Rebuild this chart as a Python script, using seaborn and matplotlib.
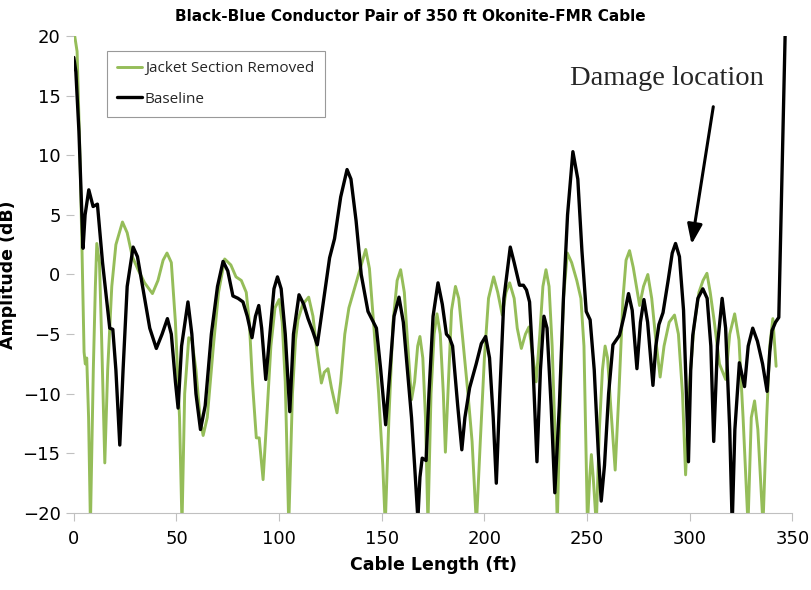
import numpy as np
import pandas as pd
import seaborn as sns
import matplotlib.pyplot as plt

# Baseline (black)
base_ft = [0, 1, 2.5, 4.5, 5.5, 7.3, 9.4, 11.5, 14, 17.5, 19, 20.5, 22.4, 24, 26, 28.9,
           31, 34, 37, 40.2, 43, 45.6, 47.5, 49.5, 50.8, 52.5, 55.6, 57.5, 59.5, 61.7,
           64, 67, 70, 72.7, 75, 77.5, 80, 82.4, 84.5, 86.8, 88.5, 90.1, 91.5, 93.5,
           95.5, 97.5, 99.2, 101, 103, 105.2, 107, 109.7, 112, 114.1, 116.5, 118.6,
           121, 124.6, 127, 130, 133.1, 135, 137.5, 140, 143.3, 147.4, 149.5, 151.9,
           154, 156, 158.4, 160.5, 162.5, 164.5, 166, 167.6, 168.6, 169.7, 171.6, 173,
           175, 177.4, 179.5, 181.5, 183, 184.5, 187, 189, 190.5, 192.8, 196, 198.5,
           200.6, 202.5, 204.3, 205.8, 207.5, 209.5, 212.6, 214.5, 217.1, 219, 220.5,
           222, 223.5, 225.6, 227.3, 229, 230.5, 232.5, 234.3, 236.5, 238.5, 240.5,
           243.1, 245.5, 247.5, 249.6, 251.5, 253.5, 255.5, 256.9, 258.5, 260.5, 262.6,
           265.8, 268, 270.2, 272, 274.3, 276, 277.7, 279.5, 282.1, 283.5, 285, 287,
           289.5, 291.5, 293.1, 295, 297, 298.2, 299.4, 300.5, 301.5, 304, 306.4, 308.5,
           310.3, 311.7, 313.5, 315.8, 317.5, 319.5, 320.7, 322, 324.2, 326.7, 328.5,
           330.7, 333, 335.5, 337.7, 339, 340.1, 341.8, 343.4, 346.6]
base_db = [18.2, 17.0, 12, 2.2, 5, 7.1, 5.7, 5.9, 1, -4.5, -4.6, -8, -14.3, -8, -1, 2.3,
           1.5, -1.5, -4.5, -6.2, -5, -3.7, -5, -9, -11.2, -6, -2.3, -5, -10, -13,
           -11, -5, -1, 1.1, 0.3, -1.8, -2, -2.3, -3.5, -5.3, -3.5, -2.6, -4.5, -8.8,
           -5, -1.2, -0.2, -1.2, -5, -11.5, -5, -1.7, -2.5, -3.7, -4.8, -5.9,
           -3, 1.4, 3, 6.5, 8.8, 8, 4.5, 0, -3.1, -4.5, -8, -12.6,
           -8, -3.5, -1.9, -4, -8, -12, -16, -20.5, -17, -15.4, -15.6, -10,
           -3.5, -0.7, -2.5, -5, -5.3, -6, -11, -14.7, -12, -9.5, -7.5, -5.8,
           -5.2, -7, -12, -17.5, -10, -2, 2.3, 1, -0.9, -0.9, -1.3,
           -2.3, -7, -15.7, -8, -3.5, -4.5, -11, -18.3, -11, -2, 5,
           10.3, 8, 2, -3.1, -3.8, -8, -15, -19.0, -16, -10, -5.9,
           -5.1, -3.5, -1.6, -3, -7.9, -4, -2.1, -4, -9.3, -6, -4.2, -3.2,
           -0.5, 1.8, 2.6, 1.5, -3, -9, -15.7, -8, -5.1, -2, -1.2, -2,
           -6, -14.0, -6, -2.0, -4.5, -13, -21, -13, -7.4, -9.4, -6,
           -4.5, -5.6, -7.5, -9.8, -6.5, -4.7, -4.0, -3.6, 21]

# Jacket Section Removed (green)
jack_ft = [0, 1.6, 3, 4, 5.0, 5.6, 6.3, 7.2, 8.1, 9.5, 10.5, 11.2, 12.5, 13.5, 15.1, 16.5,
           18.5, 20.5, 23.7, 26, 28.5, 31.3, 34.5, 38.3, 41, 43.5, 45.4, 47.5, 49.5,
           51.5, 52.7, 54, 56, 57.5, 59.5, 61.5, 63, 65, 68, 70.5, 73.5, 76.5, 79, 81.6,
           84, 85.5, 87, 88.9, 90.3, 92.2, 94, 96, 98, 100, 101.5, 103, 104.7, 106.5,
           108, 109.2, 111.5, 114.4, 116.5, 118.5, 120.6, 122, 123.8, 125.5, 128.2, 130,
           132, 134, 137, 140, 142.2, 144, 146, 148.5, 150.5, 151.7, 153.5, 155.5, 157.5,
           159.2, 161, 162.5, 164.5, 166, 167.5, 168.6, 170, 171.3, 172.5, 174, 175.5,
           176.9, 178.5, 180, 181, 182.5, 184, 185.9, 187.5, 189.5, 192, 194, 196.1, 198,
           200, 202, 204.5, 206.5, 208.7, 210.5, 212.3, 214.5, 216, 218, 220, 221.7,
           223.3, 225.2, 227, 228.5, 230, 231.5, 233, 234.5, 235.5, 237, 238.5, 240.4,
           242.5, 245, 247, 248.5, 250.2, 251.3, 252.1, 253, 254.5, 256, 257.5, 258.8,
           260, 261.5, 263.7, 265.5, 267.5, 269, 270.7, 272.5, 275.6, 277.5, 279.6,
           281.5, 283.5, 285.6, 287.5, 290, 292.6, 294.5, 296.5, 298, 300, 302, 304.5,
           306.5, 308.4, 310, 312, 314.5, 317.5, 319.5, 321.9, 324, 326, 328.4, 330,
           331.6, 333.2, 335.7, 337.5, 339, 340.5, 342.1]
jack_db = [20.5, 18.7, 10, 2, -6.5, -7.5, -7.0, -12, -21, -8, -1, 2.6, 1, -5, -15.8, -8,
           -1, 2.5, 4.4, 3.5, 1.5, 0.4, -0.7, -1.6, -0.5, 1.2, 1.8, 1, -4,
           -12, -21, -10, -5.3, -5.5, -8, -12, -13.5, -12, -6, -1.5, 1.3, 0.8, -0.2, -0.5,
           -1.5, -4, -9, -13.7, -13.7, -17.2, -12, -6, -2.8, -2.1, -4, -9, -21, -10,
           -5.5, -3.8, -2.5, -1.9, -3.5, -6.5, -9.1, -8.2, -7.9, -9.5, -11.6, -9,
           -5, -2.8, -1, 0.8, 2.1, 0.5, -4, -10, -16, -21, -12, -4, -0.5,
           0.4, -1.5, -5.5, -10.5, -9, -6, -5.2, -7, -12, -21, -10, -5,
           -3.3, -5, -10, -14.9, -9, -3, -1.0, -2, -5.5, -10, -14, -21, -14,
           -7, -2, -0.2, -1.5, -3.4, -1.5, -0.7, -2, -4.5, -6.2, -5, -4.4,
           -6.5, -9, -5, -1, 0.4, -1, -6, -14, -21, -10, -2, 1.8,
           1.0, -0.5, -2, -6, -21, -17, -15.1, -17, -21, -13, -8, -6.0,
           -7, -11, -16.4, -10, -2, 1.2, 2.0, 0.6, -2.6, -1, 0.0,
           -2, -5.5, -8.6, -6, -4, -3.4, -5, -10, -16.8, -9, -4.5, -1.5,
           -0.5, 0.1, -1.5, -4, -7.5, -8.8, -5, -3.3, -5.5, -12, -21, -12,
           -10.6, -13, -21, -12, -6, -3.7, -7.7]

green = "#95bd59"

fig, ax = plt.subplots(figsize=(8.11, 5.9), dpi=100)
fig.subplots_adjust(left=0.091, right=0.977, bottom=0.1305, top=0.939)
sns.set_style("white")
plt.rcParams['font.family'] = ['Open Sans', 'DejaVu Sans']

jack = pd.DataFrame({"ft": jack_ft, "db": jack_db})
base = pd.DataFrame({"ft": base_ft, "db": base_db})
sns.lineplot(data=jack, x="ft", y="db", ax=ax, color=green, lw=2.1,
             estimator=None, sort=False, label="Jacket Section Removed",
             solid_joinstyle="round")
sns.lineplot(data=base, x="ft", y="db", ax=ax, color="black", lw=2.4,
             estimator=None, sort=False, label="Baseline",
             solid_joinstyle="round")

ax.set_xlim(0, 350)
ax.set_ylim(-20, 20)
ax.set_xticks(range(0, 351, 50))
ax.set_yticks(range(-20, 21, 5))
for s in ["top", "right", "left"]:
    ax.spines[s].set_visible(False)
ax.spines["bottom"].set_color("#c0c0c0")
ax.tick_params(axis="both", colors="#c0c0c0", labelcolor="black", labelsize=13,
               length=6, direction="out")
ax.tick_params(axis="x", pad=6)

ax.set_title("Black-Blue Conductor Pair of 350 ft Okonite-FMR Cable",
             fontsize=11, fontweight="bold", pad=11, x=0.469)
ax.set_xlabel("Cable Length (ft)", fontsize=12.5, fontweight="bold", labelpad=6)
ax.set_ylabel("Amplitude (dB)", fontsize=12.5, fontweight="bold", labelpad=4)

leg = ax.legend(loc="upper left", bbox_to_anchor=(0.035, 0.985), frameon=True,
                fancybox=False, edgecolor="#808080", fontsize=11,
                handlelength=1.6, handletextpad=0.2, labelspacing=1.0,
                borderpad=0.7)
leg.get_frame().set_linewidth(0.8)

ax.annotate("", xy=(300.7, 2.3), xytext=(311.7, 14.3),
            arrowprops=dict(arrowstyle="-|>,head_length=1.2,head_width=0.45",
                            color="black", lw=2.2))
ax.text(336, 16.4, "Damage location", fontsize=20.5, family="Liberation Serif",
        ha="right", va="center")

fig.savefig("out.png", dpi=100)
